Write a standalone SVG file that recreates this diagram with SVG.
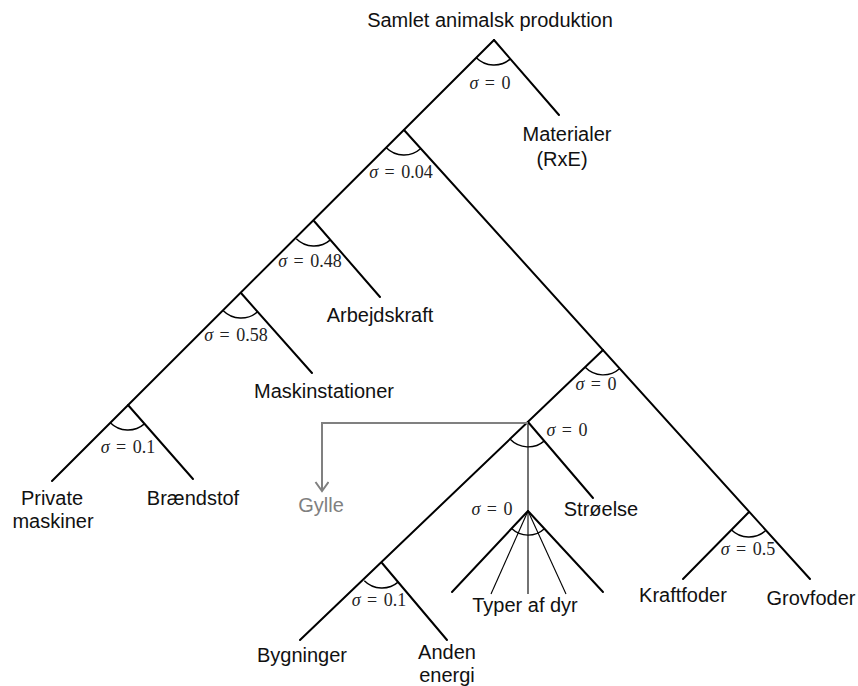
<svg xmlns="http://www.w3.org/2000/svg" width="858" height="686" viewBox="0 0 858 686">
  <style>
    .edge { stroke: #000; stroke-width: 2; fill: none; stroke-linecap: round; }
    .thin { stroke: #000; stroke-width: 1.1; fill: none; }
    .arc { stroke: #000; stroke-width: 1.4; fill: none; }
    .flow { stroke: #808080; stroke-width: 2; fill: none; }
    .lbl { font-family: "Liberation Sans", Arial, sans-serif; font-size: 20px; fill: #111; text-anchor: middle; }
    .gray { fill: #808080; }
    .sig { font-family: "Liberation Serif", "Times New Roman", serif; font-size: 18px; fill: #222; text-anchor: middle; word-spacing: 2px; }
    .sig .s { font-style: italic; }
  </style>
  <defs>
    <marker id="vee" markerWidth="16" markerHeight="16" refX="10" refY="7" orient="auto" markerUnits="userSpaceOnUse">
      <path d="M1,0.5 L10,7 L1,13.5" stroke="#808080" stroke-width="2" fill="none"/>
    </marker>
  </defs>
  <rect width="858" height="686" fill="#fff"/>

  <!-- connectors -->
  <g id="connectors">
    <line class="edge" x1="494" y1="40" x2="52" y2="481"/>
    <line class="edge" x1="494" y1="40" x2="559" y2="115"/>
    <line class="edge" x1="404" y1="130" x2="810" y2="579"/>
    <line class="edge" x1="314" y1="221" x2="380" y2="297"/>
    <line class="edge" x1="241" y1="293" x2="312" y2="373"/>
    <line class="edge" x1="128" y1="405" x2="193" y2="479"/>
    <line class="edge" x1="603" y1="350" x2="300" y2="640"/>
    <line class="edge" x1="528" y1="422" x2="593" y2="498"/>
    <line class="edge" x1="382" y1="563" x2="447" y2="640"/>
    <line class="edge" x1="749" y1="512" x2="683" y2="579"/>
    <line class="thin" x1="528" y1="422" x2="528" y2="511"/>
    <line class="edge" x1="528" y1="511" x2="452" y2="592"/>
    <line class="edge" x1="528" y1="511" x2="603" y2="592"/>
    <line class="thin" x1="528" y1="511" x2="491" y2="594"/>
    <line class="thin" x1="528" y1="511" x2="528" y2="594"/>
    <line class="thin" x1="528" y1="511" x2="566" y2="594"/>
    <path class="flow" d="M528,423 H322 V491" marker-end="url(#vee)"/>
  </g>

  <!-- nesting nodes: arc + elasticity -->
  <g id="n-top">
    <path class="arc" d="M476.3,57.7 A25,25 0 0 0 510.4,58.9"/>
    <text class="sig" x="490" y="89"><tspan class="s">σ</tspan> = 0</text>
  </g>
  <g id="n-004">
    <path class="arc" d="M386.3,147.7 A25,25 0 0 0 420.8,148.6"/>
    <text class="sig" x="401" y="178"><tspan class="s">σ</tspan> = 0.04</text>
  </g>
  <g id="n-048">
    <path class="arc" d="M296.3,238.7 A25,25 0 0 0 330.4,239.9"/>
    <text class="sig" x="310" y="267"><tspan class="s">σ</tspan> = 0.48</text>
  </g>
  <g id="n-058">
    <path class="arc" d="M223.3,310.7 A25,25 0 0 0 257.4,311.9"/>
    <text class="sig" x="236" y="341"><tspan class="s">σ</tspan> = 0.58</text>
  </g>
  <g id="n-01a">
    <path class="arc" d="M110.3,422.7 A25,25 0 0 0 144.4,423.9"/>
    <text class="sig" x="128" y="453"><tspan class="s">σ</tspan> = 0.1</text>
  </g>
  <g id="n-fodder">
    <path class="arc" d="M585.2,367.3 A25,25 0 0 0 619.8,368.5"/>
    <text class="sig" x="596" y="390"><tspan class="s">σ</tspan> = 0</text>
  </g>
  <g id="n-stable">
    <path class="arc" d="M510.2,439.3 A25,25 0 0 0 544.4,440.9"/>
    <text class="sig" x="567" y="436"><tspan class="s">σ</tspan> = 0</text>
  </g>
  <g id="n-animals">
    <path class="arc" d="M511.6,528.6 A24,24 0 0 0 544.4,528.7"/>
    <text class="sig" x="492" y="515"><tspan class="s">σ</tspan> = 0</text>
  </g>
  <g id="n-01b">
    <path class="arc" d="M364.3,580.7 A25,25 0 0 0 398.4,581.9"/>
    <text class="sig" x="379" y="606"><tspan class="s">σ</tspan> = 0.1</text>
  </g>
  <g id="n-05">
    <path class="arc" d="M731.3,529.7 A25,25 0 0 0 765.7,530.6"/>
    <text class="sig" x="748" y="555"><tspan class="s">σ</tspan> = 0.5</text>
  </g>

  <!-- leaf and root labels -->
  <g id="root"><text class="lbl" x="490" y="27">Samlet animalsk produktion</text></g>
  <g id="materialer">
    <text class="lbl" x="567" y="141">Materialer</text>
    <text class="lbl" x="562" y="166">(RxE)</text>
  </g>
  <g id="arbejdskraft"><text class="lbl" x="380" y="322">Arbejdskraft</text></g>
  <g id="maskinstationer"><text class="lbl" x="324" y="398">Maskinstationer</text></g>
  <g id="private">
    <text class="lbl" x="52" y="505">Private</text>
    <text class="lbl" x="53" y="528">maskiner</text>
  </g>
  <g id="braendstof"><text class="lbl" x="193" y="505">Brændstof</text></g>
  <g id="gylle"><text class="lbl gray" x="321" y="512">Gylle</text></g>
  <g id="stroelse"><text class="lbl" x="601" y="516">Strøelse</text></g>
  <g id="typer"><text class="lbl" x="525" y="612">Typer af dyr</text></g>
  <g id="kraftfoder"><text class="lbl" x="683" y="602">Kraftfoder</text></g>
  <g id="grovfoder"><text class="lbl" x="811" y="605">Grovfoder</text></g>
  <g id="bygninger"><text class="lbl" x="302" y="662">Bygninger</text></g>
  <g id="anden">
    <text class="lbl" x="447" y="659">Anden</text>
    <text class="lbl" x="447" y="682">energi</text>
  </g>
</svg>
